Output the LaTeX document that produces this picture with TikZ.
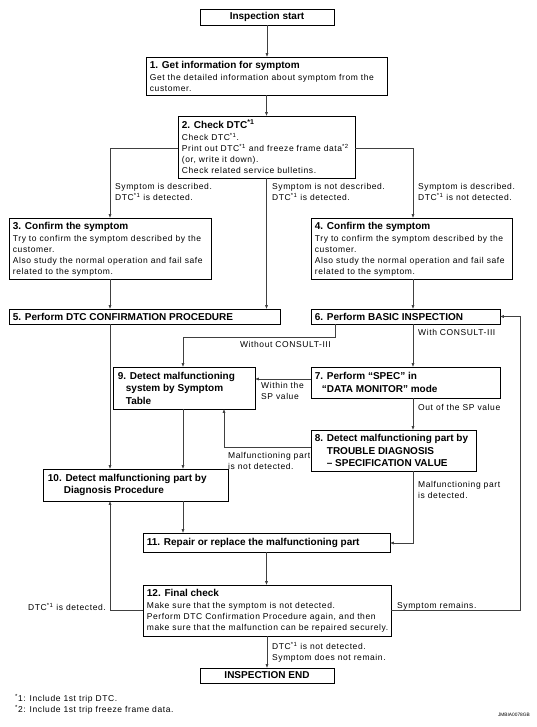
\documentclass[tikz,border=0pt]{standalone}
\usepackage{fontspec}
\setmainfont{Liberation Sans}
\newfontfamily\bodyfam[LetterSpace=7]{Liberation Sans}
\usetikzlibrary{arrows.meta,fit}
\newcommand\ttl{\rmfamily\fontsize{10}{12.5}\selectfont\bfseries}
\newcommand\bdy{\bodyfam\fontsize{8.5}{11}\selectfont}
\newcommand\sst[1]{\textsuperscript{#1}}
\begin{document}
\begin{tikzpicture}[x=1pt,y=-1pt,
  box/.style={draw=black, line width=0.6pt, inner sep=0pt},
  txt/.style={anchor=north west, inner sep=0pt, align=left, font=\bdy},
  ttxt/.style={anchor=west, inner sep=0pt, align=left, font=\ttl},
  ctxt/.style={inner sep=0pt, font=\ttl},
  lbl/.style={anchor=north west, inner sep=0pt, align=left, font=\bdy},
  con/.style={draw=black!75, line width=0.6pt, -{Triangle[length=3.5pt,width=2.6pt]}},
  lin/.style={draw=black!75, line width=0.6pt}]
\fill[white] (0,0) rectangle (537,727);
\useasboundingbox (0,0) rectangle (537,727);

% boxes
\node[box, fit={(200,9) (334,25)}] (start) {};
\node[ctxt] (startt) at (start.center) {Inspection start};

\node[box, fit={(146,57) (387,95)}] (b1) {};
\node[txt] (b1t) at ([xshift=4pt,yshift=-4pt]b1.north west)
  {{\ttl 1. Get information for symptom}\\[1pt]
   Get the detailed information about symptom from the\\ customer.};

\node[box, fit={(178,116) (355,178)}] (b2) {};
\node[txt] (b2t) at ([xshift=4pt,yshift=-4pt]b2.north west)
  {{\ttl 2. Check DTC\sst{*1}}\\[1pt]
   Check DTC\sst{*1}.\\
   Print out DTC\sst{*1} and freeze frame data\sst{*2}\\
   (or, write it down).\\
   Check related service bulletins.};

\node[box, fit={(9,218) (211,279)}] (b3) {};
\node[txt] (b3t) at ([xshift=4pt,yshift=-4pt]b3.north west)
  {{\ttl 3. Confirm the symptom}\\[1pt]
   Try to confirm the symptom described by the\\ customer.\\
   Also study the normal operation and fail safe\\ related to the symptom.};

\node[box, fit={(311,218) (512,279)}] (b4) {};
\node[txt] (b4t) at ([xshift=4pt,yshift=-4pt]b4.north west)
  {{\ttl 4. Confirm the symptom}\\[1pt]
   Try to confirm the symptom described by the\\ customer.\\
   Also study the normal operation and fail safe\\ related to the symptom.};

\node[box, fit={(9,309) (280,324)}] (b5) {};
\node[ttxt] (b5t) at ([xshift=4pt]b5.west) {5. Perform DTC CONFIRMATION PROCEDURE};

\node[box, fit={(311,309) (500,324)}] (b6) {};
\node[ttxt] (b6t) at ([xshift=4pt]b6.west) {6. Perform BASIC INSPECTION};

\node[box, fit={(311,367) (500,398)}] (b7) {};
\node[ttxt] (b7t) at ([xshift=4pt]b7.west)
  {7. Perform “SPEC” in\\\hspace*{7pt}“DATA MONITOR” mode};

\node[box, fit={(311,430) (476,471)}] (b8) {};
\node[ttxt] (b8t) at ([xshift=4pt]b8.west)
  {8. Detect malfunctioning part by\\\hspace*{12pt}TROUBLE DIAGNOSIS\\\hspace*{12pt}– SPECIFICATION VALUE};

\node[box, fit={(113,367) (255,409)}] (b9) {};
\node[ttxt] (b9t) at ([xshift=5pt]b9.west)
  {9. Detect malfunctioning\\\hspace*{8pt}system by Symptom\\\hspace*{8pt}Table};

\node[box, fit={(43,469) (228,501)}] (b10) {};
\node[ttxt] (b10t) at ([xshift=5pt]b10.west)
  {10. Detect malfunctioning part by\\\hspace*{16pt}Diagnosis Procedure};

\node[box, fit={(143,533) (390,552)}] (b11) {};
\node[ttxt] (b11t) at ([xshift=4pt]b11.west) {11. Repair or replace the malfunctioning part};

\node[box, fit={(143,585) (391,636)}] (b12) {};
\node[txt] (b12t) at ([xshift=4pt,yshift=-4pt]b12.north west)
  {{\ttl 12. Final check}\\[1pt]
   Make sure that the symptom is not detected.\\
   Perform DTC Confirmation Procedure again, and then\\
   make sure that the malfunction can be repaired securely.};

\node[box, fit={(200,668) (334,683)}] (end) {};
\node[ctxt] (endt) at (end.center) {INSPECTION END};

% helper coordinates
\coordinate (L) at (110,148);
\coordinate (R) at (413,148);
\coordinate (W1) at (335,337);
\coordinate (W2) at (183,337);
\coordinate (S) at (0,379);
\coordinate (N1) at (224,447);
\coordinate (M) at (413,543);
\coordinate (D) at (110,610);
\coordinate (E1) at (520,610);

% connectors
\draw[con] (start.south) -- (start.south |- b1.north);
\draw[con] (b1.south) -- (b1.south |- b2.north);
\draw[con] (b2.west |- L) -- (L) -- (L |- b3.north);
\draw[con] (b2.east |- R) -- (R) -- (R |- b4.north);
\draw[con] (b2.south) -- (b2.south |- b5.north);
\draw[con] (b3.south -| L) -- (L |- b5.north);
\draw[con] (b4.south -| R) -- (R |- b6.north);
\draw[con] (b5.south -| L) -- (L |- b10.north);
\draw[con] (b6.south -| W1) -- (W1) -- (W2) -- (W2 |- b9.north);
\draw[con] (b6.south -| R) -- (R |- b7.north);
\draw[con] (b7.west |- S) -- (b9.east |- S);
\draw[con] (b7.south -| R) -- (R |- b8.north);
\draw[con] (b8.west |- N1) -- (N1) -- (N1 |- b9.south);
\draw[con] (b9.south -| W2) -- (W2 |- b10.north);
\draw[con] (b10.south -| W2) -- (W2 |- b11.north);
\draw[con] (b8.south -| M) -- (M) -- (b11.east |- M);
\draw[con] (b11.south) -- (b11.south |- b12.north);
\draw[con] (b12.west |- D) -- (D) -- (D |- b10.south);
\draw[con] (b12.east |- E1) -- (E1) -- (E1 |- b6.east) -- (b6.east);
\draw[con] (b12.south) -- (b12.south |- end.north);

% labels
\node[lbl] (l1) at (115,183) {Symptom is described.\\DTC\sst{*1} is detected.};
\node[lbl] (l2) at (272,183) {Symptom is not described.\\DTC\sst{*1} is detected.};
\node[lbl] (l3) at (418,183) {Symptom is described.\\DTC\sst{*1} is not detected.};
\node[lbl, anchor=north east] (l4) at (331,341) {Without CONSULT-III};
\node[lbl] (l5) at (418,329) {With CONSULT-III};
\node[lbl] (l6) at (261,382) {Within the\\SP value};
\node[lbl] (l7) at (418,404) {Out of the SP value};
\node[lbl] (l8) at (228,452) {Malfunctioning part\\is not detected.};
\node[lbl] (l9) at (418,481) {Malfunctioning part\\is detected.};
\node[lbl, anchor=north east] (l10) at (106,603) {DTC\sst{*1} is detected.};
\node[lbl] (l11) at (397,602) {Symptom remains.};
\node[lbl] (l12) at (272,642) {DTC\sst{*1} is not detected.\\Symptom does not remain.};

% footnotes
\node[lbl] (fn) at (15,694) {\sst{*}1: Include 1st trip DTC.\\\sst{*}2: Include 1st trip freeze frame data.};
\node[anchor=north east, inner sep=0pt, font=\rmfamily\fontsize{4.8}{5}\selectfont] (code) at (530,713) {JMBIA0078GB};
\end{tikzpicture}
\end{document}
